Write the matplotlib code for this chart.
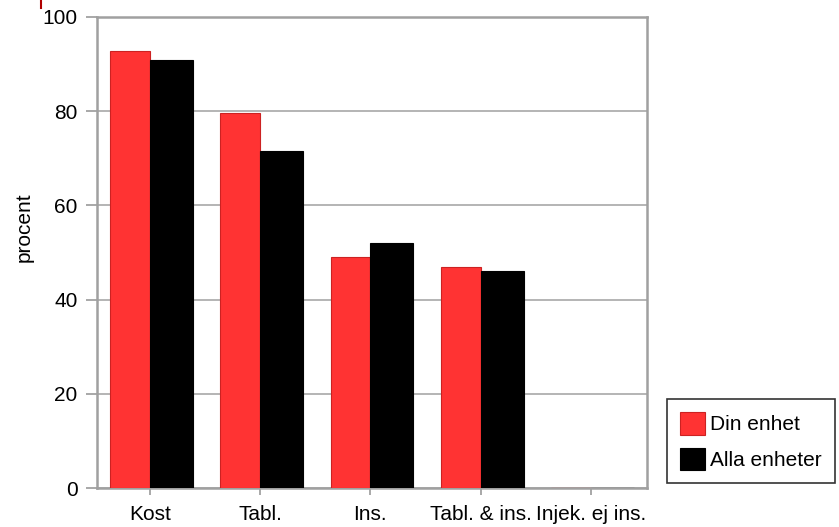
import matplotlib
matplotlib.use("Agg")
import matplotlib.pyplot as plt
import numpy as np
from matplotlib.lines import Line2D

categories = ["Kost", "Tabl.", "Ins.", "Tabl. & ins.", "Injek. ej ins."]
din_enhet = [92.8, 79.7, 49, 47, 0]
alla_enheter = [90.9, 71.5, 52, 46, 0]
yticks = [0, 20, 40, 60, 80, 100]

plt.rcParams['font.family'] = ['Liberation Sans', 'DejaVu Sans']
FS = 15

W, H = 839, 527
fig = plt.figure(figsize=(W/100, H/100), dpi=100)
ax = fig.add_axes([97/W, 1-488/H, (647-97)/W, (488-17)/H])

x = np.arange(len(categories))
ax.bar(x - 0.36, din_enhet, width=0.36, align="edge", color="#ff3333",
       edgecolor="#cc2222", linewidth=0.8, label="Din enhet", zorder=3)
ax.bar(x, alla_enheter, width=0.39, align="edge", color="#000000",
       edgecolor="#000000", linewidth=0.8, label="Alla enheter", zorder=3)

ax.set_xlim(-0.48, 4.51)
ax.set_ylim(0, 100)
ax.set_yticks(yticks)
ax.set_xticks(x)
ax.set_xticklabels(categories, fontsize=FS)
ax.tick_params(axis="y", length=8, width=1.2, color="#999999", labelsize=FS, pad=6)
ax.tick_params(axis="x", length=5, width=1.2, color="#999999", labelsize=FS, pad=7)
ax.yaxis.grid(True, color="#a8a8a8", linewidth=1.2, zorder=0)
for s in ax.spines.values():
    s.set_color("#a0a0a0")
    s.set_linewidth(1.8)

fig.text(24/W, 1-227/H, "procent", rotation=90, ha="center", va="center", fontsize=FS)

leg = ax.legend(loc="upper left", bbox_to_anchor=(667/W, 1-399/H),
                bbox_transform=fig.transFigure, borderaxespad=0, frameon=True, fancybox=False,
                edgecolor="#000000", fontsize=FS, handlelength=1.2, handleheight=1.3,
                borderpad=0.62, labelspacing=0.62, handletextpad=0.25)
leg.get_frame().set_linewidth(1.2)

fig.add_artist(Line2D([41/W, 41/W], [1, 1-8/H], color="#b00000", linewidth=1.5))

fig.savefig("out.png", dpi=100)
